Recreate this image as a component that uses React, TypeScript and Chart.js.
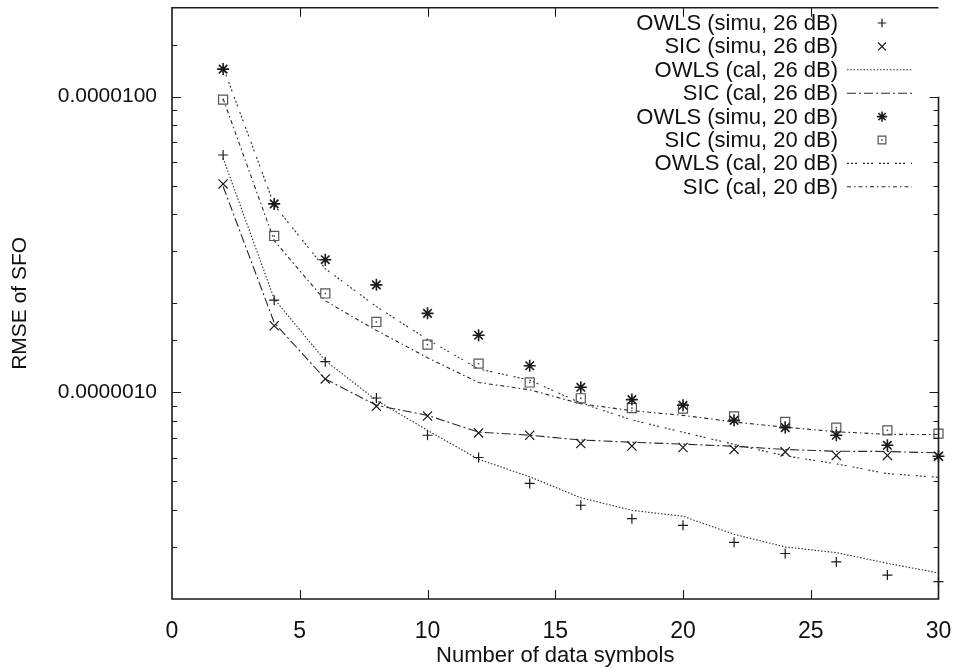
import React, { useEffect, useRef } from 'react';
import { Chart, registerables } from 'chart.js';

Chart.register(...registerables);

// ---- data ----
const symbols = [2, 4, 6, 8, 10, 12, 14, 16, 18, 20, 22, 24, 26, 28, 30];

const owlsSimu26 = [6.35e-6, 2.05e-6, 1.27e-6, 9.57e-7, 7.16e-7, 6.02e-7, 4.92e-7, 4.15e-7, 3.74e-7, 3.55e-7, 3.11e-7, 2.85e-7, 2.67e-7, 2.41e-7, 2.29e-7];
const sicSimu26 = [5.07e-6, 1.68e-6, 1.11e-6, 8.97e-7, 8.32e-7, 7.29e-7, 7.16e-7, 6.71e-7, 6.58e-7, 6.51e-7, 6.41e-7, 6.29e-7, 6.12e-7, 6.12e-7, 6.08e-7];
const owlsCal26 = [6.2e-6, 2.07e-6, 1.28e-6, 9.4e-7, 7.44e-7, 5.94e-7, 5.18e-7, 4.4e-7, 3.99e-7, 3.81e-7, 3.31e-7, 3.0e-7, 2.87e-7, 2.64e-7, 2.45e-7];
const sicCal26 = [4.97e-6, 1.72e-6, 1.11e-6, 9.04e-7, 8.36e-7, 7.34e-7, 7.16e-7, 6.9e-7, 6.78e-7, 6.68e-7, 6.57e-7, 6.41e-7, 6.32e-7, 6.31e-7, 6.24e-7];
const owlsSimu20 = [1.24e-5, 4.34e-6, 2.81e-6, 2.31e-6, 1.85e-6, 1.56e-6, 1.23e-6, 1.04e-6, 9.45e-7, 9.04e-7, 8.04e-7, 7.6e-7, 7.16e-7, 6.62e-7, 6.08e-7];
const sicSimu20 = [9.77e-6, 3.38e-6, 2.16e-6, 1.73e-6, 1.45e-6, 1.25e-6, 1.08e-6, 9.55e-7, 8.85e-7, 8.81e-7, 8.29e-7, 7.94e-7, 7.6e-7, 7.44e-7, 7.25e-7];
const owlsCal20 = [1.26e-5, 4.3e-6, 2.62e-6, 1.95e-6, 1.51e-6, 1.2e-6, 1.1e-6, 9.2e-7, 8.07e-7, 7.33e-7, 6.67e-7, 6.1e-7, 5.73e-7, 5.31e-7, 5.16e-7];
const sicCal20 = [9.85e-6, 3.26e-6, 2.04e-6, 1.62e-6, 1.31e-6, 1.08e-6, 1.02e-6, 9.15e-7, 8.67e-7, 8.36e-7, 7.94e-7, 7.62e-7, 7.36e-7, 7.21e-7, 7.2e-7];

const seriesLabels = [
  'OWLS (simu, 26 dB)',
  'SIC (simu, 26 dB)',
  'OWLS (cal, 26 dB)',
  'SIC (cal, 26 dB)',
  'OWLS (simu, 20 dB)',
  'SIC (simu, 20 dB)',
  'OWLS (cal, 20 dB)',
  'SIC (cal, 20 dB)',
];

const xTickValues = [0, 5, 10, 15, 20, 25, 30];
const yMajorTicks = [1e-6, 1e-5];
const yMajorLabels = ['0.0000010', '0.0000100'];
const xTitle = 'Number of data symbols';
const yTitle = 'RMSE of SFO';

// ---- style ----
const FONT = '"Liberation Sans", Arial, Helvetica, sans-serif';
const INK = '#1a1a1a';
const LINE = '#2a2a2a';

function pts(vals: number[]) {
  return symbols.map((s, i) => ({ x: s, y: vals[i] }));
}

function drawMarker(ctx: CanvasRenderingContext2D, style: string, x: number, y: number, r: number) {
  ctx.beginPath();
  const d = r * Math.SQRT1_2;
  if (style === 'cross' || style === 'star') {
    ctx.moveTo(x - r, y); ctx.lineTo(x + r, y);
    ctx.moveTo(x, y - r); ctx.lineTo(x, y + r);
  }
  if (style === 'crossRot' || style === 'star') {
    ctx.moveTo(x - d, y - d); ctx.lineTo(x + d, y + d);
    ctx.moveTo(x - d, y + d); ctx.lineTo(x + d, y - d);
  }
  if (style === 'rect') {
    ctx.rect(x - d, y - d, 2 * d, 2 * d);
  }
  ctx.stroke();
  if (style === 'rect') {
    ctx.fillRect(x - 0.75, y - 0.75, 1.5, 1.5);
  }
}

const isPow10 = (v: number) => {
  const l = Math.log10(v);
  return Math.abs(l - Math.round(l)) < 1e-6;
};

const framePlugin = {
  id: 'gpFrame',
  afterDatasetsDraw(chart: any) {
    const { ctx, chartArea, scales } = chart;
    const { left, right, top, bottom } = chartArea;
    const xs = scales.x;
    const ys = scales.y;
    ctx.save();
    const meta = chart.getDatasetMeta(5);
    ctx.fillStyle = '#444';
    meta.data.forEach((p: any) => ctx.fillRect(p.x - 0.75, p.y - 0.75, 1.5, 1.5));

    ctx.strokeStyle = INK;
    ctx.lineWidth = 1.6;
    const yRightTop = ys.getPixelForValue(yMajorTicks[yMajorTicks.length - 1]);
    ctx.beginPath();
    ctx.moveTo(right, yRightTop);
    ctx.lineTo(right, bottom);
    ctx.lineTo(left, bottom);
    ctx.lineTo(left, top);
    ctx.lineTo(right, top);
    ctx.stroke();

    ctx.lineWidth = 1.1;
    ctx.beginPath();
    xTickValues.forEach((v) => {
      const px = Math.round(xs.getPixelForValue(v)) + 0.5;
      if (px <= left + 1 || px >= right - 1) return;
      ctx.moveTo(px, bottom); ctx.lineTo(px, bottom - 9);
      ctx.moveTo(px, top); ctx.lineTo(px, top + 9);
    });
    ys.ticks.forEach((t: any) => {
      const v = t.value;
      const py = Math.round(ys.getPixelForValue(v)) + 0.5;
      if (py < top + 1 || py > bottom - 1) return;
      const len = isPow10(v) ? 9 : 5;
      ctx.moveTo(left, py); ctx.lineTo(left + len, py);
      if (py >= yRightTop - 1) {
        ctx.moveTo(right, py); ctx.lineTo(right - len, py);
      }
    });
    ctx.stroke();
    ctx.restore();
  },
};

const legendPlugin = {
  id: 'gpLegend',
  afterDraw(chart: any) {
    const ctx: CanvasRenderingContext2D = chart.ctx;
    const textRight = 838;
    const markX = 882;
    const lineX0 = 847;
    const lineX1 = 912;
    ctx.save();
    ctx.font = `22px ${FONT}`;
    ctx.textAlign = 'right';
    ctx.textBaseline = 'middle';
    chart.data.datasets.forEach((ds: any, i: number) => {
      const yy = 23 + i * 23.4;
      ctx.fillStyle = '#111';
      ctx.fillText(ds.label, textRight, yy + 1);
      if (ds.showLine === false) {
        ctx.strokeStyle = ds.pointBorderColor;
        ctx.fillStyle = ds.pointBorderColor;
        ctx.lineWidth = ds.pointBorderWidth;
        ctx.setLineDash([]);
        drawMarker(ctx, ds.pointStyle, markX, yy, ds.pointRadius * 0.85);
      } else {
        ctx.strokeStyle = ds.borderColor;
        ctx.lineWidth = ds.borderWidth;
        ctx.setLineDash(ds.borderDash || []);
        ctx.beginPath();
        ctx.moveTo(lineX0, yy);
        ctx.lineTo(lineX1, yy);
        ctx.stroke();
        ctx.setLineDash([]);
      }
    });
    ctx.restore();
  },
};

function markerSet(label: string, vals: number[], style: string, r: number, color: string, w: number) {
  return {
    label,
    data: pts(vals),
    showLine: false,
    pointStyle: style,
    pointRadius: r,
    pointBorderColor: color,
    pointBackgroundColor: 'rgba(0,0,0,0)',
    pointBorderWidth: w,
    borderColor: color,
    backgroundColor: 'rgba(0,0,0,0)',
    clip: false,
  };
}

function lineSet(label: string, vals: number[], dash: number[]) {
  return {
    label,
    data: pts(vals),
    showLine: true,
    pointRadius: 0,
    borderColor: LINE,
    backgroundColor: 'rgba(0,0,0,0)',
    borderWidth: 1.1,
    borderDash: dash,
    tension: 0,
    clip: false,
  };
}

export default function App() {
  const ref = useRef<HTMLCanvasElement | null>(null);

  useEffect(() => {
    document.body.style.margin = '0';
    const canvas = ref.current;
    if (!canvas) return;
    const chart = new Chart(canvas, {
      type: 'line',
      data: {
        datasets: [
          markerSet(seriesLabels[0], owlsSimu26, 'cross', 5, INK, 1.2),
          markerSet(seriesLabels[1], sicSimu26, 'crossRot', 6.5, INK, 1.2),
          lineSet(seriesLabels[2], owlsCal26, [1.5, 1.8]),
          lineSet(seriesLabels[3], sicCal26, [9, 3, 2, 3]),
          markerSet(seriesLabels[4], owlsSimu20, 'star', 6, INK, 1.6),
          markerSet(seriesLabels[5], sicSimu20, 'rect', 6.4, '#555', 1.2),
          lineSet(seriesLabels[6], owlsCal20, [2, 2, 2, 2, 2, 6]),
          lineSet(seriesLabels[7], sicCal20, [4, 3, 1.5, 3]),
        ] as any,
      },
      options: {
        responsive: false,
        animation: false,
        devicePixelRatio: 1,
        layout: { padding: { top: 7, right: 16.5, left: 0, bottom: 0 } },
        plugins: {
          legend: { display: false },
          tooltip: { enabled: false },
        },
        scales: {
          x: {
            type: 'linear',
            min: 0,
            max: 30,
            afterBuildTicks: (s: any) => {
              s.ticks = xTickValues.map((v) => ({ value: v }));
            },
            afterFit: (s: any) => {
              s.height = 69;
              s.paddingLeft = 0;
              s.paddingRight = 0;
            },
            grid: { display: false, drawTicks: false },
            border: { display: false },
            ticks: {
              font: { family: FONT, size: 23, lineHeight: 1 },
              color: '#111',
              padding: 21,
              maxRotation: 0,
              autoSkip: false,
            },
            title: {
              display: true,
              text: xTitle,
              font: { family: FONT, size: 22, lineHeight: 1 },
              color: '#111',
              padding: { top: 0, bottom: 1 },
            },
          },
          y: {
            type: 'logarithmic',
            min: 2e-7,
            max: 2e-5,
            afterFit: (s: any) => {
              s.width = 172;
              s.paddingTop = 0;
              s.paddingBottom = 0;
            },
            grid: { display: false, drawTicks: false },
            border: { display: false },
            ticks: {
              font: { family: FONT, size: 21, lineHeight: 1 },
              color: '#111',
              padding: 15,
              autoSkip: false,
              callback: (value: any) => {
                const v = Number(value);
                const i = yMajorTicks.findIndex((t) => Math.abs(t - v) / t < 1e-6);
                return i >= 0 ? yMajorLabels[i] : '';
              },
            },
            title: {
              display: true,
              text: yTitle,
              font: { family: FONT, size: 21, lineHeight: 1 },
              color: '#111',
              padding: { top: 10, bottom: 0 },
            },
          },
        },
      } as any,
      plugins: [framePlugin, legendPlugin],
    });
    return () => chart.destroy();
  }, []);

  return (
    <div style={{ position: 'absolute', left: 0, top: 0, width: 955, height: 668, background: '#fff' }}>
      <canvas ref={ref} width={955} height={668} style={{ display: 'block' }} />
    </div>
  );
}
